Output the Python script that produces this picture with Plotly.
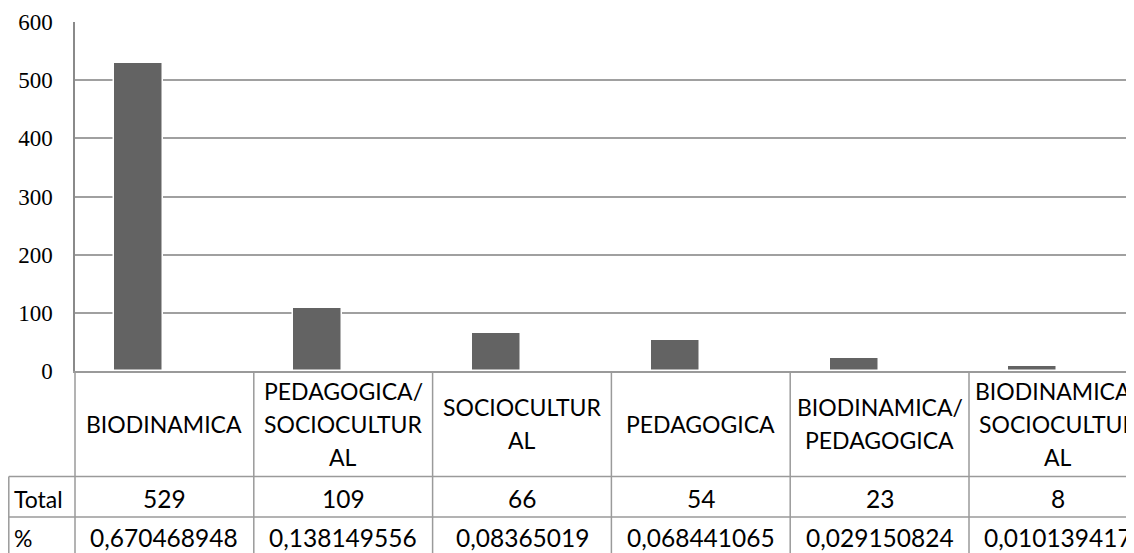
import plotly.graph_objects as go

categories = ["BIODINAMICA", "PEDAGOGICA/<br>SOCIOCULTUR<br>AL", "SOCIOCULTUR<br>AL",
              "PEDAGOGICA", "BIODINAMICA/<br>PEDAGOGICA", "BIODINAMICA/<br>SOCIOCULTUR<br>AL"]
totals = [529, 109, 66, 54, 23, 8]
percents = [0.670468948, 0.138149556, 0.08365019, 0.068441065, 0.029150824, 0.010139417]
row_labels = ["Total", "%"]
y_ticks = [0, 100, 200, 300, 400, 500, 600]

# page shows figure offset by 8px (body margin); work in figure pixels
W, H = 1126, 545
ML, MT = 67, 14
ZERO_Y = 363
MB = H - ZERO_Y
plot_h = ZERO_Y - MT
col_px = 178.8
n = len(categories)
x_hi = -0.5 + (W - ML) / col_px

BAR_W = 0.275
BAR_SHIFT = 25.5 / col_px   # bars sit left of the table column centres

def py(pix):
    return (ZERO_Y - pix) / plot_h

def px(pix):
    return (pix - ML) / (W - ML)

GRID = "#a0a0a0"
LINE = "#9a9a9a"
LFONT = dict(family="Lato, Calibri, sans-serif", size=23, color="#000000")
NFONT = dict(family="Lato, Calibri, sans-serif", size=24.5, color="#000000")

fig = go.Figure()
fig.add_trace(go.Bar(
    x=list(range(n)), y=totals, width=BAR_W, offset=-BAR_W / 2 - BAR_SHIFT,
    marker=dict(color="#636363", line=dict(color="#ffffff", width=1.5)),
    hoverinfo="skip"))

ROW1, ROW2, BOTTOM = 468.5, 509, 560
shapes = []
shapes.append(dict(type="line", xref="paper", yref="paper", x0=0, x1=0,
                   y0=0, y1=py(BOTTOM), line=dict(color=LINE, width=1.5)))
for i in range(n):
    xb = i + 0.5
    shapes.append(dict(type="line", xref="x", yref="paper", x0=xb, x1=xb,
                       y0=0, y1=py(BOTTOM), line=dict(color=LINE, width=1.5)))
x_left = px(0.8)
for pix in (ROW1, ROW2):
    shapes.append(dict(type="line", xref="paper", yref="paper", x0=x_left, x1=1,
                       y0=py(pix), y1=py(pix), line=dict(color=LINE, width=1.5)))
shapes.append(dict(type="line", xref="paper", yref="paper", x0=x_left, x1=x_left,
                   y0=py(ROW1), y1=py(BOTTOM), line=dict(color=LINE, width=1.5)))

annotations = []
CAT_MID, LINE_SP = 415.5, 33
for i, c in enumerate(categories):
    parts = c.split("<br>")
    k = len(parts)
    for j, part in enumerate(parts):
        yy = CAT_MID + (j - (k - 1) / 2) * LINE_SP
        annotations.append(dict(x=i, y=py(yy), xref="x", yref="paper", text=part,
                                showarrow=False, font=LFONT, xanchor="center", yanchor="middle"))
    annotations.append(dict(x=i, y=py(490.5), xref="x", yref="paper", text=str(totals[i]),
                            showarrow=False, font=NFONT, xanchor="center", yanchor="middle"))
    annotations.append(dict(x=i, y=py(529.5), xref="x", yref="paper",
                            text=("%.9f" % percents[i]).rstrip("0").replace(".", ","),
                            showarrow=False, font=NFONT, xanchor="center", yanchor="middle"))
for lbl, pp in zip(row_labels, (490.5, 529.5)):
    annotations.append(dict(x=px(4), y=py(pp), xref="paper", yref="paper",
                            text=lbl, showarrow=False, font=LFONT,
                            xanchor="left", yanchor="middle"))

fig.update_layout(
    width=W, height=H,
    margin=dict(l=ML, r=0, t=MT, b=MB, pad=0),
    paper_bgcolor="white", plot_bgcolor="white",
    showlegend=False, bargap=0,
    shapes=shapes, annotations=annotations,
    xaxis=dict(range=[-0.5, x_hi], showticklabels=False, ticks="", showgrid=False,
               zeroline=False, showline=True, linecolor=LINE, linewidth=1.5),
    yaxis=dict(range=[0, 600], tickvals=y_ticks, ticks="", showgrid=True,
               gridcolor=GRID, gridwidth=1.5, zeroline=False, showline=True,
               linecolor="#8a8a8a", linewidth=1.5, ticklabelstandoff=16,
               tickfont=dict(family="Liberation Serif, Times New Roman, serif",
                             size=23, color="#000000")),
)

fig.write_html("out.html")
